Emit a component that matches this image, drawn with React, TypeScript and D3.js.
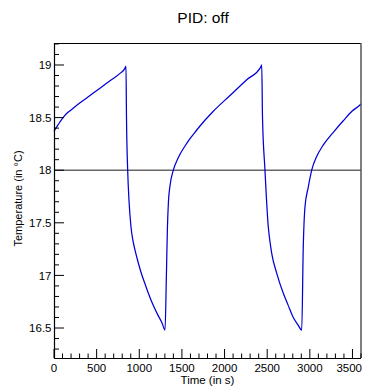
import React from "react";
import * as d3 from "d3";

const times = [0, 47, 106, 164, 211, 305, 422, 539, 657, 774, 833, 844, 850, 864, 879, 903, 926, 950, 985, 1020, 1067, 1102, 1161, 1220, 1266, 1302, 1318, 1330, 1342, 1360, 1399, 1458, 1536, 1595, 1653, 1712, 1868, 2064, 2260, 2424, 2436, 2445, 2474, 2492, 2513, 2533, 2553, 2612, 2689, 2744, 2806, 2861, 2905, 2923, 2943, 2982, 3022, 3080, 3158, 3275, 3392, 3494, 3588, 3600];
const temps = [18.37, 18.43, 18.5, 18.55, 18.58, 18.64, 18.71, 18.78, 18.85, 18.92, 18.97, 18.99, 18.5, 18.0, 17.72, 17.46, 17.33, 17.24, 17.13, 17.03, 16.92, 16.84, 16.72, 16.62, 16.55, 16.48, 17.0, 17.45, 17.7, 17.85, 18.0, 18.12, 18.23, 18.3, 18.36, 18.42, 18.56, 18.71, 18.86, 18.98, 19.0, 18.5, 18.0, 17.72, 17.46, 17.32, 17.21, 17.02, 16.83, 16.72, 16.6, 16.53, 16.48, 17.27, 17.65, 17.84, 18.0, 18.13, 18.24, 18.36, 18.47, 18.56, 18.62, 18.63];

const xMajor = [0, 500, 1000, 1500, 2000, 2500, 3000, 3500];
const yMajor = [16.5, 17, 17.5, 18, 18.5, 19];
const xLabels = ["0", "500", "1000", "1500", "2000", "2500", "3000", "3500"];
const yLabels = ["16.5", "17", "17.5", "18", "18.5", "19"];
const refLevel = 18;

const W = 366, H = 386;
const L = 54, R = 361, T = 43, B = 358;
const FONT = "Liberation Sans, Arial, Helvetica, sans-serif";

export default function App() {
  const x = d3.scaleLinear().domain([0, 3600]).range([L, R]);
  const y = d3.scaleLinear().domain([16.215, 19.209]).range([B, T]);
  const xMinor = d3.range(0, 3601, 100).filter((v) => v % 500 !== 0);
  const yMinor = d3.range(163, 193, 1).map((v) => v / 10).filter((v) => Math.round(v * 10) % 5 !== 0);
  const pts = times.map((t, i) => [t, temps[i]] as [number, number]);
  const line = d3.line<[number, number]>().x((d) => x(d[0])).y((d) => y(d[1])).curve(d3.curveMonotoneX);

  return (
    <svg width={W} height={H} style={{ position: "absolute", left: 0, top: 0, background: "#fff" }} fontFamily={FONT}>
      <rect x={0} y={0} width={W} height={H} fill="#fff" />
      <text x={203} y={23} textAnchor="middle" fontSize={15.5} fill="#000">PID: off</text>
      {/* reference line */}
      <line x1={L} x2={R} y1={y(refLevel)} y2={y(refLevel)} stroke="#666" strokeWidth={1.5} />
      {/* data */}
      <path d={line(pts) || ""} fill="none" stroke="#0000d8" strokeWidth={1.25} strokeLinejoin="round" />
      {/* frame */}
      <line x1={L} x2={R} y1={T + 0.5} y2={T + 0.5} stroke="#000" strokeWidth={1} />
      <line x1={R} x2={R} y1={T} y2={B} stroke="#555" strokeWidth={1.5} />
      <line x1={L + 0.5} x2={L + 0.5} y1={T} y2={B} stroke="#000" strokeWidth={1.2} />
      <line x1={L} x2={R} y1={B + 0.5} y2={B + 0.5} stroke="#000" strokeWidth={1.2} />
      {/* x ticks */}
      {xMajor.map((v) => (
        <line key={"xm" + v} x1={x(v)} x2={x(v)} y1={B} y2={B - 9} stroke="#000" strokeWidth={1} />
      ))}
      {xMinor.map((v) => (
        <line key={"xn" + v} x1={x(v)} x2={x(v)} y1={B} y2={B - 4.5} stroke="#000" strokeWidth={1} />
      ))}
      {xMajor.map((v, i) => {
        const cx = x(v);
        const half = xLabels[i].length * 3.2;
        const clamp = cx + half > R;
        return (
          <text key={"xl" + v} x={clamp ? R + 1 : cx} y={371.5} textAnchor={clamp ? "end" : "middle"} fontSize={11.5} fill="#000">
            {xLabels[i]}
          </text>
        );
      })}
      {/* y ticks */}
      {yMajor.map((v) => (
        <line key={"ym" + v} x1={L} x2={L + 10} y1={y(v)} y2={y(v)} stroke="#000" strokeWidth={1} />
      ))}
      {yMinor.map((v) => (
        <line key={"yn" + v} x1={L} x2={L + 5} y1={y(v)} y2={y(v)} stroke="#000" strokeWidth={1} />
      ))}
      {yMajor.map((v, i) => (
        <text key={"yl" + v} x={51.5} y={y(v)} dy="0.36em" textAnchor="end" fontSize={11.5} fill="#000">
          {yLabels[i]}
        </text>
      ))}
      {/* axis titles */}
      <text x={(L + R) / 2} y={383.5} textAnchor="middle" fontSize={11.5} fill="#000">Time (in s)</text>
      <text transform={`translate(21.5,${(T + B) / 2 - 2}) rotate(-90)`} textAnchor="middle" fontSize={11} fill="#000">
        Temperature (in °C)
      </text>
    </svg>
  );
}
